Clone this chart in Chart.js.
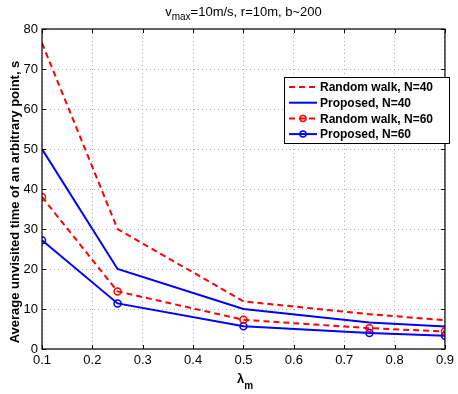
<!DOCTYPE html>
<html>
<head>
<meta charset="utf-8">
<script src="https://cdn.jsdelivr.net/npm/chart.js@4/dist/chart.umd.min.js"></script>
<style>
  html, body { margin: 0; padding: 0; background: #fff; }
  #wrap { width: 458px; height: 394px; }
</style>
</head>
<body>
<div id="wrap"><canvas id="c" width="458" height="394"></canvas></div>
<script>
// lambda_m values
const lambdas = [0.1, 0.25, 0.5, 0.75, 0.9];
// average unvisited time (s)
const randomWalk40 = [76.5, 30.0, 11.9, 8.7, 7.2];
const proposed40 = [50.0, 20.0, 10.0, 6.6, 5.6];
const randomWalk60 = [38.0, 14.4, 7.3, 5.2, 4.4];
const proposed60 = [27.2, 11.4, 5.7, 4.0, 3.3];

const xTicks = [0.1, 0.2, 0.3, 0.4, 0.5, 0.6, 0.7, 0.8, 0.9];
const yTicks = [0, 10, 20, 30, 40, 50, 60, 70, 80];

const FONT = '"Liberation Sans", Arial, Helvetica, sans-serif';

function pts(ys) {
  return lambdas.map((x, i) => ({ x: x, y: ys[i] }));
}

// frame, inward ticks, title, axis labels, legend
const matlabLook = {
  id: 'matlabLook',
  afterDraw(chart) {
    const ctx = chart.ctx;
    const a = chart.chartArea;
    const xs = chart.scales.x, ys = chart.scales.y;
    ctx.save();
    ctx.strokeStyle = '#000';
    ctx.lineWidth = 1.2;
    ctx.strokeRect(a.left, a.top, a.right - a.left, a.bottom - a.top);
    ctx.lineWidth = 1;
    ctx.beginPath();
    xTicks.forEach(v => {
      const px = Math.round(xs.getPixelForValue(v)) + 0.5;
      ctx.moveTo(px, a.bottom); ctx.lineTo(px, a.bottom - 4);
      ctx.moveTo(px, a.top); ctx.lineTo(px, a.top + 4);
    });
    yTicks.forEach(v => {
      const py = Math.round(ys.getPixelForValue(v)) + 0.5;
      ctx.moveTo(a.left, py); ctx.lineTo(a.left + 4, py);
      ctx.moveTo(a.right, py); ctx.lineTo(a.right - 4, py);
    });
    ctx.stroke();

    // title with subscript
    ctx.fillStyle = '#000';
    ctx.textBaseline = 'alphabetic';
    ctx.textAlign = 'left';
    const big = '13px ' + FONT, small = '10px ' + FONT;
    const p1 = 'v', p2 = 'max', p3 = '=10m/s, r=10m, b~200';
    ctx.font = big; const w1 = ctx.measureText(p1).width, w3 = ctx.measureText(p3).width;
    ctx.font = small; const w2 = ctx.measureText(p2).width;
    let tx = (a.left + a.right) / 2 - (w1 + w2 + w3) / 2;
    const ty = 16;
    ctx.font = big; ctx.fillText(p1, tx, ty); tx += w1;
    ctx.font = small; ctx.fillText(p2, tx, ty + 4); tx += w2;
    ctx.font = big; ctx.fillText(p3, tx, ty);

    // x label
    ctx.font = 'bold 13px ' + FONT;
    const lw = ctx.measureText('\u03bb').width;
    ctx.fillText('\u03bb', 237, 383);
    ctx.font = 'bold 10px ' + FONT;
    ctx.fillText('m', 237 + lw, 389);

    // y label
    ctx.save();
    ctx.translate(19, 202);
    ctx.rotate(-Math.PI / 2);
    ctx.textAlign = 'center';
    ctx.font = 'bold 13px ' + FONT;
    ctx.fillText('Average unvisited time of an arbitrary point, s', 0, 0);
    ctx.restore();

    // legend
    const bx = 284, by = 77, bw = 165, bh = 66;
    ctx.fillStyle = '#fff';
    ctx.fillRect(bx, by, bw, bh);
    ctx.strokeStyle = '#000';
    ctx.lineWidth = 1;
    ctx.strokeRect(bx + 0.5, by + 0.5, bw, bh);
    const rows = chart.data.datasets;
    rows.forEach((ds, i) => {
      const ry = by + 10 + i * 15.7;
      ctx.strokeStyle = ds.borderColor;
      ctx.lineWidth = ds.borderWidth;
      ctx.setLineDash(ds.borderDash || []);
      ctx.beginPath();
      ctx.moveTo(bx + 5, ry); ctx.lineTo(bx + 33, ry);
      ctx.stroke();
      ctx.setLineDash([]);
      if (ds.pointRadius > 0) {
        ctx.lineWidth = 1.5;
        ctx.beginPath();
        ctx.arc(bx + 19, ry, 3, 0, Math.PI * 2);
        ctx.stroke();
      }
      ctx.fillStyle = '#000';
      ctx.font = 'bold 12px ' + FONT;
      ctx.textAlign = 'left';
      ctx.textBaseline = 'middle';
      ctx.fillText(ds.label, bx + 36, ry + 1);
    });
    ctx.restore();
  }
};

new Chart(document.getElementById('c'), {
  type: 'line',
  data: {
    datasets: [
      { label: 'Random walk, N=40', data: pts(randomWalk40), borderColor: '#ff0000', borderWidth: 2, borderDash: [6, 4], pointRadius: 0, fill: false },
      { label: 'Proposed, N=40', data: pts(proposed40), borderColor: '#0000ff', borderWidth: 2, pointRadius: 0, fill: false },
      { label: 'Random walk, N=60', data: pts(randomWalk60), borderColor: '#ff0000', borderWidth: 2, borderDash: [6, 4], pointRadius: 3.5, pointBorderWidth: 1.5, pointBackgroundColor: 'rgba(0,0,0,0)', pointBorderColor: '#ff0000', fill: false },
      { label: 'Proposed, N=60', data: pts(proposed60), borderColor: '#0000ff', borderWidth: 2, pointRadius: 3.5, pointBorderWidth: 1.5, pointBackgroundColor: 'rgba(0,0,0,0)', pointBorderColor: '#0000ff', fill: false }
    ]
  },
  options: {
    responsive: false,
    animation: false,
    layout: { padding: { top: 29, right: 6, left: 0, bottom: 0 } },
    plugins: { legend: { display: false }, tooltip: { enabled: false }, title: { display: false } },
    scales: {
      x: {
        type: 'linear', min: 0.1, max: 0.9,
        afterBuildTicks(s) { s.ticks = xTicks.map(v => ({ value: v })); },
        afterFit(s) { s.height = 45; },
        ticks: { color: '#000', font: { family: FONT, size: 13 }, padding: 4, maxRotation: 0, callback: v => (+v).toFixed(1) },
        grid: { color: '#aaa', lineWidth: 1, drawTicks: false },
        border: { display: false, dash: [1, 3] }
      },
      y: {
        type: 'linear', min: 0, max: 80,
        afterBuildTicks(s) { s.ticks = yTicks.map(v => ({ value: v })); },
        afterFit(s) { s.width = 42; },
        ticks: { color: '#000', font: { family: FONT, size: 13 }, padding: 4 },
        grid: { color: '#aaa', lineWidth: 1, drawTicks: false },
        border: { display: false, dash: [1, 3] }
      }
    }
  },
  plugins: [matlabLook]
});
</script>
</body>
</html>
